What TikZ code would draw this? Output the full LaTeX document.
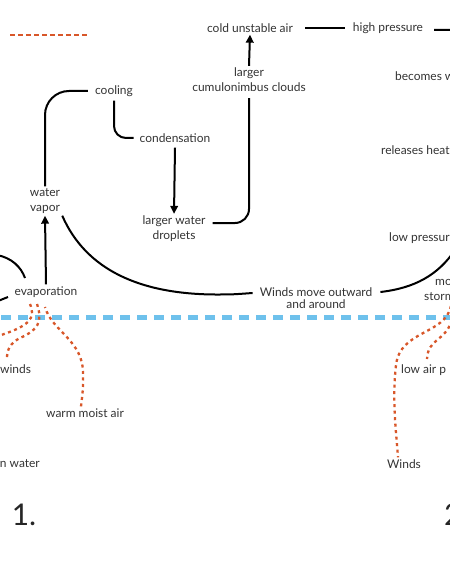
\documentclass[tikz,border=0pt]{standalone}
\usepackage{fontspec}
\setmainfont{Lato}
\usetikzlibrary{arrows.meta}
\definecolor{txt}{HTML}{333333}
\definecolor{windc}{HTML}{D8572A}
\definecolor{sea}{HTML}{6EC1EC}
\begin{document}
\begin{tikzpicture}[x=1bp,y=-1bp,
  lbl/.style={font=\fontsize{12}{15}\selectfont, text=txt, align=center, inner sep=2bp},
  big/.style={font=\fontsize{30}{30}\selectfont, text=black!85, inner sep=0pt},
  conn/.style={line width=2bp, black},
  arr/.style={conn, -{Triangle[length=8bp,width=7.5bp]}},
  windline/.style={windc, line width=2.3bp, dash pattern=on 3bp off 3.5bp},
]
\useasboundingbox (0,0) rectangle (450,563);
\clip (0,0) rectangle (450,563);

% legend
\draw[windc, line width=1.8bp, dash pattern=on 5bp off 3bp] (10,35) -- (88,35);

% nodes
\node[lbl] (cold) at (250,28) {cold unstable air};
\node[lbl] (high) at (388,28) {high pressure};
\node[lbl] (clouds) at (249,80) {larger\\cumulonimbus clouds};
\node[lbl] (cooling) at (114,91) {cooling};
\node[lbl] (cond) at (175,138) {condensation};
\node[lbl] (drops) at (174,229) {larger water\\droplets};
\node[lbl] (vapor) at (45,201) {water\\vapor};
\node[lbl] (evap) at (46,292) {evaporation};
\node[lbl, font=\fontsize{12}{12}\selectfont] (out) at (316,298) {Winds move outward\\and around};
\node[lbl, anchor=west] (becomes) at (393,76) {becomes w};
\node[lbl, anchor=west] (releases) at (379,150) {releases heat};
\node[lbl, anchor=west] (lowp) at (387,238) {low pressur};
\node[lbl, anchor=west] (mo) at (433,282) {mo};
\node[lbl, anchor=west] (storm) at (422,297) {storm};
\node[lbl, anchor=west] (windsL) at (-2,369) {winds};
\node[lbl] (warm) at (85,413) {warm moist air};
\node[lbl, anchor=east] (water) at (42,464) {n water};
\node[lbl] (windsR) at (404,464) {Winds};
\node[lbl, anchor=west] (lowair) at (399,370) {low air p};
\node[big] (one) at (24,515) {1.};
\node[big, anchor=west] (two) at (444,515) {2};

% coordinates for free ends
\coordinate (e1) at (455,30);
\coordinate (e2) at (455,250);

% connectors
\draw[arr] (clouds.north) -- (cold.south);
\draw[conn] ([xshift=10bp]cold.east) -- ([xshift=-6bp]high.west);
\draw[conn] ([xshift=9bp,yshift=-2bp]high.east) -- (e1);
\draw[conn, rounded corners=14bp] ([yshift=-4bp]clouds.south) |- ([xshift=5bp,yshift=6bp]drops.east);
\draw[arr] ([yshift=-3bp]cond.south) -- (drops.north);
\draw[conn, rounded corners=12bp] ([yshift=-2bp]cooling.south) |- ([xshift=-4bp]cond.west);
\draw[conn, rounded corners=24bp] (vapor.north) |- ([xshift=-5bp]cooling.west);
\draw[arr] (evap.north) -- (vapor.south);
\draw[conn] (vapor.south east) .. controls (86,270) and (140,294) .. (215,294.5) .. controls (232,294.5) .. ([xshift=-5bp,yshift=5bp]out.west);
\draw[conn] ([xshift=6bp,yshift=6bp]out.east) .. controls (415,288) and (438,275) .. (e2);

% partial shapes at left edge
\draw[conn] (-3,255) .. controls (12,258) and (21,267) .. (25,278);
\draw[conn] (-2,301) -- (8,297);

% sea surface
\draw[sea, line width=5bp, dash pattern=on 10bp off 7bp] (1,317) -- (455,317);

% wind paths
\draw[windline] (30,304) .. controls (36,318) and (30,326) .. (-2,336);
\draw[windline] (37,304) .. controls (43,322) and (38,330) .. (20,338) .. controls (10,343) and (7,350) .. (7,358);
\draw[windline] ([xshift=-4bp]warm.north) .. controls (83,390) .. (83,375) .. controls (84,340) and (52,332) .. (45,307);
\draw[windline] (451,306) .. controls (445,335) and (400,330) .. (396,365) .. controls (392,400) and (396,430) .. ([xshift=-6bp]windsR.north);
\draw[windline] (452,320) .. controls (445,342) and (428,338) .. (427,359);
\end{tikzpicture}
\end{document}
